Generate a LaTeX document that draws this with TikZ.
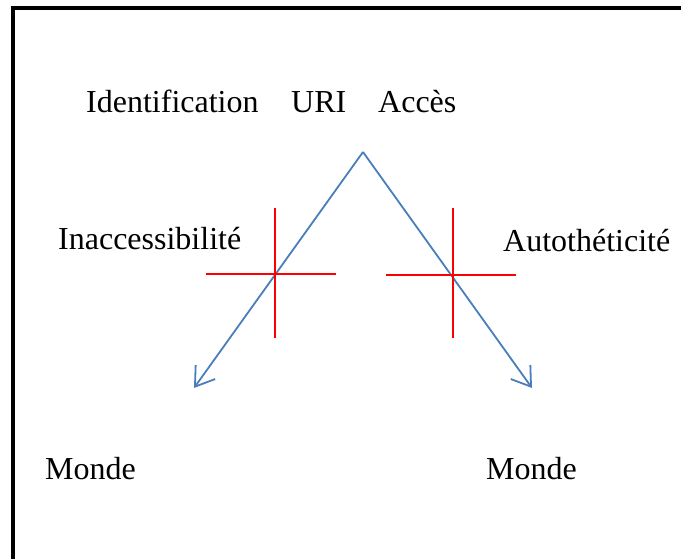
\documentclass[tikz,border=0pt]{standalone}
\usepackage{fontspec}
\setmainfont{Liberation Serif}
\usetikzlibrary{arrows.meta}
\definecolor{arrowblue}{RGB}{74,126,187}
\tikzset{
  lbl/.style={anchor=base west,inner sep=0pt,font=\fontsize{32}{38}\selectfont},
  ray/.style={arrowblue,line width=1.8pt,-{Straight Barb[length=18pt,width=24pt,line width=1.8pt]}},
  bar/.style={red,line width=2.4pt}
}
\begin{document}
\begin{tikzpicture}[x=1pt,y=-1pt]
        \useasboundingbox (0,0) rectangle (681,558);
        \draw[line width=3.5pt,line join=miter] (13,560) -- (13,8) -- (683,8);
        % labels
        \node[lbl] (ident) at (86,112) {Identification};
        \node[lbl] (uri) at (291,112) {URI};
        \node[lbl] (acces) at (378,112) {Accès};
        \node[lbl] (inacc) at (58,249) {Inaccessibilité};
        \node[lbl] (autoth) at (503,251) {Autothéticité};
        \node[lbl] (mondeL) at (45,479) {Monde};
        \node[lbl] (mondeR) at (486,479) {Monde};
        % arrows
        \coordinate (apex) at (363,152);
        \coordinate (endL) at (194,388);
        \coordinate (endR) at (532,388);
        \draw[ray] (apex) -- (endL);
        \draw[ray] (apex) -- (endR);
        % crosses
        \draw[bar] (206,274) -- (336,274);
        \draw[bar] (275,208) -- (275,338);
        \draw[bar] (386,275) -- (516,275);
        \draw[bar] (453,208) -- (453,338);
    \end{tikzpicture}
\end{document}
